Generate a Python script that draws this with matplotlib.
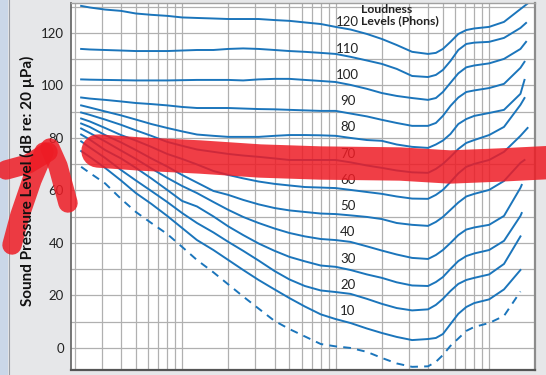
import matplotlib.pyplot as plt
import numpy as np
from matplotlib.lines import Line2D
from matplotlib.patches import Rectangle
from matplotlib.ticker import MultipleLocator, LogLocator, NullFormatter

plt.rcParams['font.family'] = ['Lato', 'DejaVu Sans']

# frequencies (Hz) shared by all contours
freqs = [22, 25, 31.5, 40, 50, 63, 80, 100, 125, 160, 200, 250, 315, 400, 500, 630,
         800, 1000, 1250, 1600, 2000, 2500, 3150, 4000, 4500, 5000, 5600, 6300, 7100, 8000,
         10000, 12500, 16000]

phons = [120, 110, 100, 90, 80, 70, 60, 50, 40, 30, 20, 10]

db_120 = [130.3, 129.7, 128.9, 128.4, 127.4, 126.9, 126.5, 125.9, 125.7, 125.5, 125.3, 125.3, 125.3, 124.9, 124.6, 124.0,
          123.4, 122.3, 121.3, 119.6, 117.7, 115.4, 112.8, 112.0, 112.4, 113.9, 116.6, 119.6, 121.1, 121.7,
          122.3, 124.2, 129.1]
db_110 = [113.9, 113.7, 113.5, 113.3, 113.1, 113.1, 113.1, 113.3, 113.5, 113.5, 113.9, 114.1, 113.9, 113.5, 113.1, 112.8,
          112.4, 112.0, 110.9, 109.5, 108.2, 106.3, 103.6, 103.2, 104.0, 105.9, 109.3, 113.5, 115.8, 116.3,
          116.6, 118.1, 121.9]
db_100 = [102.3, 102.2, 102.1, 102.0, 101.9, 101.9, 101.9, 102.0, 102.1, 102.1, 102.1, 101.9, 102.3, 102.5, 102.5, 102.1,
          101.7, 101.3, 100.2, 98.7, 97.1, 96.0, 95.2, 94.5, 95.2, 97.5, 101.0, 104.6, 106.9, 107.6,
          108.4, 110.1, 113.9]
db_90 = [95.4, 95.0, 94.5, 93.9, 93.3, 92.9, 92.4, 91.8, 91.4, 91.4, 91.4, 91.2, 91.0, 90.9, 90.7, 90.5,
         90.3, 90.3, 89.3, 88.2, 86.9, 85.7, 84.6, 84.6, 85.7, 88.4, 92.2, 95.4, 97.5, 98.1,
         99.0, 100.6, 106.7]
db_80 = [92.4, 91.6, 90.1, 88.6, 87.0, 85.3, 83.8, 82.5, 81.3, 80.8, 80.4, 80.4, 80.4, 80.8, 81.1, 81.1,
         81.0, 80.8, 80.0, 79.2, 78.9, 77.5, 76.6, 76.2, 77.5, 79.0, 81.5, 85.3, 87.2, 88.4,
         89.5, 90.7, 96.8]
db_70 = [89.7, 88.8, 87.0, 85.0, 82.9, 80.8, 78.5, 77.0, 75.6, 74.7, 73.9, 73.3, 72.8, 72.2, 71.6, 71.6,
         71.6, 71.6, 70.7, 69.5, 68.6, 67.6, 66.9, 66.7, 68.2, 70.1, 72.8, 75.8, 78.1, 79.2,
         81.1, 84.2, 92.6]
db_60 = [87.4, 86.3, 83.8, 81.1, 79.0, 76.6, 73.9, 72.0, 69.9, 67.4, 65.9, 64.6, 63.4, 62.5, 61.9, 61.3,
         61.1, 60.9, 60.2, 59.4, 58.7, 57.7, 56.9, 56.8, 58.3, 60.2, 63.2, 66.5, 69.0, 70.1,
         71.6, 74.7, 80.8]
db_50 = [85.5, 84.2, 81.1, 78.3, 75.4, 72.2, 69.1, 65.9, 63.0, 59.8, 58.3, 56.4, 54.7, 53.3, 52.4, 51.8,
         51.2, 51.0, 50.5, 49.9, 49.1, 47.6, 46.9, 46.5, 48.0, 49.9, 52.6, 55.4, 57.7, 58.7,
         60.2, 63.6, 70.5]
db_40 = [83.6, 81.9, 78.7, 75.2, 72.0, 68.4, 64.8, 61.7, 59.0, 55.6, 52.6, 49.9, 47.6, 45.5, 43.8, 42.5,
         41.5, 41.1, 40.4, 38.7, 37.1, 35.6, 34.3, 33.9, 35.4, 37.3, 40.0, 43.0, 45.1, 45.9,
         46.9, 50.3, 61.0]
db_30 = [81.3, 79.4, 75.4, 72.2, 68.6, 64.6, 60.2, 56.0, 53.9, 50.1, 46.3, 43.0, 39.8, 37.0, 34.7, 33.0,
         31.4, 30.9, 29.7, 28.0, 26.7, 25.0, 23.8, 23.6, 25.1, 27.0, 30.1, 33.1, 35.0, 36.0,
         37.3, 40.8, 50.3]
db_20 = [78.7, 76.4, 72.4, 67.8, 63.8, 59.8, 55.6, 51.4, 47.6, 44.0, 40.4, 37.0, 33.3, 29.3, 26.1, 23.6,
         21.9, 21.3, 20.6, 18.7, 16.8, 15.2, 14.3, 14.7, 16.4, 18.7, 21.7, 24.4, 25.9, 26.7,
         28.0, 32.0, 42.5]
db_10 = [75.0, 72.8, 68.6, 63.8, 59.0, 54.9, 50.3, 45.7, 41.1, 37.3, 33.5, 29.7, 25.9, 22.3, 19.0, 15.8,
         12.8, 11.0, 9.5, 7.4, 5.7, 4.2, 3.0, 3.4, 3.8, 5.3, 9.1, 13.0, 15.6, 17.1,
         18.5, 22.3, 29.7]
db_threshold = [69.0, 66.7, 62.7, 56.8, 51.8, 47.6, 43.4, 38.5, 33.5, 28.8, 24.2, 19.6, 15.0, 10.3, 7.2, 4.4,
                1.5, 0.6, 0.0, -1.5, -3.8, -5.9, -7.2, -7.0, -5.3, -2.7, 0.8, 3.6, 6.5, 8.0,
                9.5, 12.2, 21.5]

# last point of each solid contour (top right end)
end_freq = [18000, 17400, 17400, 17000, 17000, 17000, 17800, 17000, 16300, 16300, 16000, 16000]
end_db = [131.4, 123.8, 116.6, 109.0, 102.1, 95.2, 83.8, 71.6, 62.1, 51.4, 42.5, 29.7]

ytick_vals = [0, 20, 40, 60, 80, 100, 120]

# red marker scribbles drawn over the picture (pixel paths)
band_px = [(98, 151), (140, 154), (200, 157), (260, 161), (320, 163), (400, 164),
           (450, 167), (500, 165), (560, 162)]
scribble_px = [
    [(12, 245), (20, 215), (32, 180), (44, 152)],
    [(50, 148), (58, 166), (68, 203)],
    [(6, 170), (28, 164), (48, 152)],
]

W, H = 546, 375
blue = '#1b75bb'

fig = plt.figure(figsize=(W / 100, H / 100), dpi=100, facecolor='#e6e7e9')
fig.add_artist(Rectangle((0, 0), 8 / W, 1, transform=fig.transFigure,
                         facecolor='#cad7e8', edgecolor='none'))
fig.add_artist(Line2D([8.5 / W, 8.5 / W], [0, 1], transform=fig.transFigure,
                      color='#9a9ea4', lw=0.8))

ax = fig.add_axes([71 / W, 5 / H, 464 / W, 367 / H])
ax.set_facecolor('white')
ax.set_xscale('log')
ax.set_xlim(18.9, 19900)
ax.set_ylim(-8.4, 131.4)

ax.xaxis.set_major_locator(LogLocator(base=10))
ax.xaxis.set_minor_locator(LogLocator(base=10, subs=range(2, 10)))
ax.xaxis.set_minor_formatter(NullFormatter())
ax.set_yticks(ytick_vals)
ax.yaxis.set_minor_locator(MultipleLocator(10))
ax.grid(which='both', color='#b0b0b0', lw=0.9)
ax.set_axisbelow(True)
ax.tick_params(which='both', length=0, labelbottom=False, pad=5,
               labelsize=9.5, labelcolor='#222222')

for side, c, w in [('left', '#6b6b6b', 1.3), ('bottom', '#555555', 1.6),
                   ('top', '#a0a0a0', 1.0), ('right', '#8c8c8c', 1.6)]:
    ax.spines[side].set_color(c)
    ax.spines[side].set_linewidth(w)

curves = [db_120, db_110, db_100, db_90, db_80, db_70, db_60, db_50, db_40, db_30, db_20, db_10]
for p, db, ef, ed in zip(phons, curves, end_freq, end_db):
    ax.plot(freqs + [ef], db + [ed], color=blue, lw=1.4, solid_joinstyle='round')
    ax.text(1200, p + 4, str(p), ha='center', va='center', fontsize=9.5, color='#222222')

ax.plot(freqs, db_threshold, color=blue, lw=1.4, ls=(0, (4, 3.2)))

ax.text(1470, 126.8, 'Loudness\nLevels (Phons)', ha='left', va='center', fontsize=8.8,
        fontweight='bold', color='#222222', linespacing=1.0)

fig.text(27 / W, 1 - 181 / H, 'Sound Pressure Level (dB re: 20 \u00b5Pa)', rotation=90,
         ha='center', va='center', fontsize=11, fontweight='bold', color='#111111')

# red scribbles
bx = [x / W for x, y in band_px]
by = [1 - y / H for x, y in band_px]
fig.add_artist(Line2D(bx, by, transform=fig.transFigure, color='#ee1c25', alpha=0.85,
                      lw=24, solid_capstyle='round', solid_joinstyle='round'))
for path in scribble_px:
    sx = [x / W for x, y in path]
    sy = [1 - y / H for x, y in path]
    fig.add_artist(Line2D(sx, sy, transform=fig.transFigure, color='#ee1c25', alpha=0.85,
                          lw=14, solid_capstyle='round', solid_joinstyle='round'))

fig.savefig('out.png', dpi=100, facecolor=fig.get_facecolor())
